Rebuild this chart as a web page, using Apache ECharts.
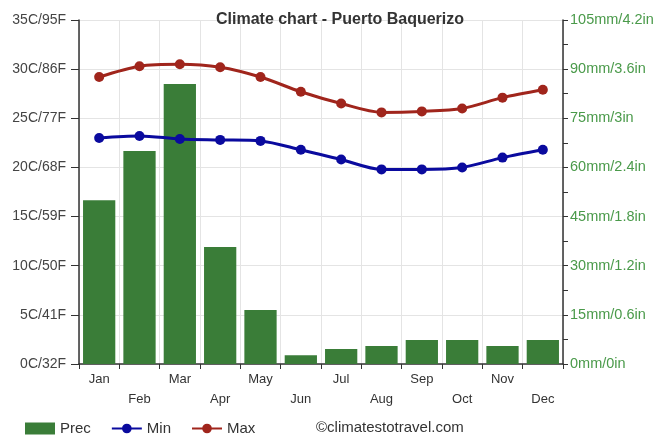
<!DOCTYPE html>
<html><head><meta charset="utf-8">
<script src="https://cdn.jsdelivr.net/npm/echarts@6/dist/echarts.min.js"></script>
<style>html,body{margin:0;padding:0;background:#fff}#c{width:662px;height:436px}</style>
</head><body><div id="c"></div>
<script>
const months = ['Jan','Feb','Mar','Apr','May','Jun','Jul','Aug','Sep','Oct','Nov','Dec'];
const prec = [50, 65, 85.5, 35.7, 16.5, 2.7, 4.6, 5.5, 7.3, 7.3, 5.5, 7.3];
const tMin = [23.0, 23.2, 22.9, 22.8, 22.7, 21.8, 20.8, 19.8, 19.8, 20.0, 21.0, 21.8];
const tMax = [29.2, 30.3, 30.5, 30.2, 29.2, 27.7, 26.5, 25.6, 25.7, 26.0, 27.1, 27.9];
const leftLabels = {0:'0C/32F',5:'5C/41F',10:'10C/50F',15:'15C/59F',20:'20C/68F',25:'25C/77F',30:'30C/86F',35:'35C/95F'};
const rightLabels = {0:'0mm/0in',15:'15mm/0.6in',30:'30mm/1.2in',45:'45mm/1.8in',60:'60mm/2.4in',75:'75mm/3in',90:'90mm/3.6in',105:'105mm/4.2in'};

const chart = echarts.init(document.getElementById('c'));
const font = 'Arial, "Liberation Sans", sans-serif';
chart.setOption({
  animation: false,
  textStyle: {fontFamily: font},
  title: {text: 'Climate chart - Puerto Baquerizo', left: 335, textAlign: 'center', top: 7,
    textStyle: {fontSize: 16, fontWeight: 'bold', color: '#333', fontFamily: font}},
  grid: {left: 79, right: 99, top: 20, bottom: 72},
  legend: {left: 20, top: 416, itemWidth: 30, itemHeight: 12, itemGap: 20,
    textStyle: {fontSize: 15, color: '#333', fontFamily: font},
    data: [{name:'Prec', icon:'rect'}, 'Min', 'Max']},
  graphic: [{type: 'text', left: 316, top: 420,
    style: {text: '©climatestotravel.com', font: '15px Arial, "Liberation Sans", sans-serif', fill: '#333'}}],
  xAxis: {type: 'category', data: months, boundaryGap: true,
    axisLine: {lineStyle: {color: '#333', width: 1.5}},
    axisTick: {show: true, length: 5, lineStyle: {color: '#333'}, interval: 0},
    splitLine: {show: true, interval: 0, lineStyle: {color: '#e4e4e4'}},
    axisLabel: {interval: 0, fontSize: 13, color: '#333', lineHeight: 20, margin: 5,
      formatter: (v, i) => i % 2 ? '\n' + v : v}},
  yAxis: [
    {type: 'value', min: 0, max: 35, interval: 5, position: 'left',
      axisLine: {show: true, lineStyle: {color: '#333', width: 1.5}},
      axisTick: {show: true, length: 8, lineStyle: {color: '#333'}},
      splitLine: {show: true, lineStyle: {color: '#e4e4e4'}},
      axisLabel: {fontSize: 14, color: '#444', margin: 13, formatter: v => leftLabels[v]}},
    {type: 'value', min: 0, max: 105, interval: 15, position: 'right',
      axisLine: {show: true, lineStyle: {color: '#333', width: 1.5}},
      axisTick: {show: true, length: 5, lineStyle: {color: '#333'}},
      minorTick: {show: true, splitNumber: 2, length: 5, lineStyle: {color: '#333'}},
      splitLine: {show: false},
      axisLabel: {fontSize: 14.5, color: '#4a9a4a', margin: 7, formatter: v => rightLabels[v]}}
  ],
  series: [
    {name: 'Prec', type: 'bar', yAxisIndex: 1, data: prec, barCategoryGap: '20%',
      itemStyle: {color: '#3a7d38'}, z: 2},
    {name: 'Min', type: 'line', yAxisIndex: 0, data: tMin, smooth: 0.3,
      symbol: 'circle', symbolSize: 10, lineStyle: {width: 3, color: '#0a0a9e'},
      itemStyle: {color: '#0a0a9e'}, z: 3},
    {name: 'Max', type: 'line', yAxisIndex: 0, data: tMax, smooth: 0.3,
      symbol: 'circle', symbolSize: 10, lineStyle: {width: 3, color: '#a0251c'},
      itemStyle: {color: '#a0251c'}, z: 3}
  ]
});
</script></body></html>
